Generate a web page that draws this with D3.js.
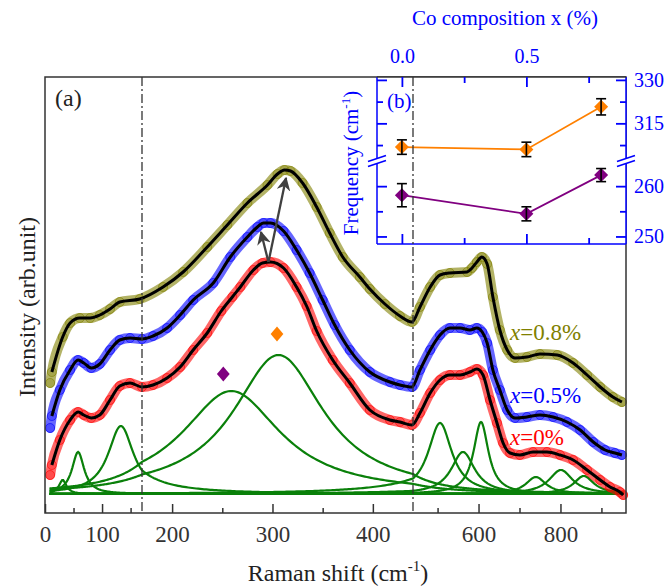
<!DOCTYPE html>
<html>
<head>
<meta charset="utf-8">
<script src="https://cdn.jsdelivr.net/npm/d3@7"></script>
<style>
  body { margin: 0; background: #fff; }
  svg text { font-family: "Liberation Serif", Tinos, "Times New Roman", Times, "DejaVu Serif", serif !important; }
</style>
</head>
<body>
<svg id="chart"></svg>
<script>
// Raman spectra, [shift (cm-1), intensity (arb.)]
const spec00 = [[9,38],[12,48],[26,73],[44,93],[58,101],[68,98],[81,95],[96,98],[114,113],[131,127],[149,130],[170,126],[181,128],[195,135],[208,146],[221,163],[235,180],[249,202],[260,216],[268,226],[281,243],[290,250],[298,251],[311,245],[324,226],[334,207],[344,182],[360,153],[377,130],[397,103],[417,93],[427,91],[439,88],[457,100],[482,120],[506,133],[530,138],[555,138],[579,141],[596,144],[611,138],[628,113],[645,90],[660,70],[677,60],[701,58],[733,61],[767,61],[799,58],[831,53],[865,43],[897,33],[921,26],[945,21],[953,18]];
const spec05 = [[9,85],[12,97],[26,123],[44,143],[58,153],[68,150],[81,145],[96,149],[114,163],[131,173],[149,175],[170,174],[181,177],[195,185],[208,198],[221,213],[241,230],[258,256],[275,276],[285,286],[291,290],[298,290],[311,282],[324,263],[337,240],[350,213],[362,188],[377,163],[397,141],[417,131],[427,128],[439,126],[457,143],[482,163],[506,178],[530,185],[555,185],[579,183],[596,185],[609,181],[621,170],[635,143],[652,123],[670,103],[689,95],[718,96],[750,98],[782,96],[816,91],[848,83],[880,71],[909,63],[933,60],[950,58]];
const spec08 = [[9,130],[12,141],[31,176],[44,190],[61,195],[79,195],[96,198],[114,204],[131,211],[166,214],[191,226],[211,241],[235,266],[255,288],[275,310],[295,328],[305,339],[312,343],[318,342],[330,330],[344,306],[357,280],[370,256],[387,236],[397,224],[412,209],[427,197],[439,191],[457,206],[482,226],[506,238],[530,240],[572,241],[584,245],[596,251],[608,256],[621,249],[635,216],[652,183],[670,163],[689,155],[718,156],[750,159],[792,158],[831,150],[865,138],[897,126],[928,116],[950,111]];

// Lorentzian components of the x=0 fit
const peakCenter = [31, 58, 133, 259, 306, 506, 562, 606, 740, 801, 857];
const peakHeight = [14, 42, 68, 103, 139, 71, 42, 72, 17, 24, 18];
const peakWidth  = [8, 13, 27, 60, 55, 35, 35, 22, 30, 35, 30];
const peakBase = 19;

// mode markers and shift arrows
const markShift = [251, 304.5];
const markInt = [139, 179];
const arrowFrom = [296, 251];
const arrowTo = [[288.5, 281], [313.5, 335]];

// x axis ticks (broken axis)
const majorTicks = [0, 100, 200, 300, 400, 600, 800];
const minorTicks = [50, 150, 250, 350, 500, 700, 900];
const axisBreaks = [170, 440];

// inset (b): mode frequency vs Co composition
const coX = [0, 0.5, 0.8];
const freqHigh = [306.8, 306.0, 320.7];
const errHigh = [2.5, 2.5, 2.8];
const freqLow = [258.2, 254.5, 262.2];
const errLow = [2.3, 1.4, 1.3];
const insetMajorY = [250, 260, 315, 330];
const insetMinorY = [255, 307.5, 322.5];
const insetMajorX = [0, 0.5];
const insetMinorX = [0.25, 0.75];

const width = 668, height = 588;
const L = 45, R = 626, T = 77, B = 513;
const serif = '"Liberation Serif", Tinos, "Times New Roman", Times, "DejaVu Serif", serif';

const svg = d3.select("#chart").attr("width", width).attr("height", height)
  .attr("font-family", serif);

const x = d3.scaleLinear().domain([0, 170, 440, 960]).range([L, 142, 413, R]);
const y = d3.scaleLinear().domain([0, 436]).range([B, T]);

// green components
const grid = d3.range(8, 956, 2);
const compLine = d3.line().x(d => x(d[0])).y(d => y(d[1]));
peakCenter.forEach((c, i) => {
  const pts = grid.map(s => [s, peakBase + peakHeight[i] / (1 + ((s - c) / peakWidth[i]) ** 2)]);
  svg.append("path").attr("d", compLine(pts))
    .attr("fill", "none").attr("stroke", "#0a800a").attr("stroke-width", 2.2);
});

// spectra: data band + fit
const specLine = d3.line().x(d => x(d[0])).y(d => y(d[1])).curve(d3.curveMonotoneX);
[[spec08, "#808000"], [spec05, "#0000ff"], [spec00, "#ff0000"]].forEach(([s, col]) => {
  svg.append("path").attr("d", specLine(s))
    .attr("fill", "none").attr("stroke", col).attr("stroke-width", 10)
    .attr("stroke-opacity", 0.6).attr("stroke-linecap", "round");
  svg.append("g").selectAll("circle").data(s).join("circle")
    .attr("cx", d => x(d[0])).attr("cy", d => y(d[1])).attr("r", 4.5)
    .attr("fill", col).attr("fill-opacity", 0.25)
    .attr("stroke", col).attr("stroke-opacity", 0.6);
});
[spec08, spec05, spec00].forEach(s => {
  svg.append("path").attr("d", specLine(s.slice(1)))
    .attr("fill", "none").attr("stroke", "#000").attr("stroke-width", 3);
});

// arrows
const defs = svg.append("defs");
defs.append("marker").attr("id", "head").attr("viewBox", "0 0 10 10")
  .attr("refX", 9).attr("refY", 5).attr("markerWidth", 6).attr("markerHeight", 6)
  .attr("markerUnits", "strokeWidth").attr("orient", "auto")
  .append("path").attr("d", "M0,0L10,5L0,10L3,5Z").attr("fill", "#404040");
arrowTo.forEach(t => {
  svg.append("line")
    .attr("x1", x(arrowFrom[0])).attr("y1", y(arrowFrom[1]))
    .attr("x2", x(t[0])).attr("y2", y(t[1]))
    .attr("stroke", "#404040").attr("stroke-width", 2.3)
    .attr("marker-end", "url(#head)");
});

// diamonds
const diamond = r => `M0,${-r}L${r * 0.85},0L0,${r}L${-r * 0.85},0Z`;
svg.selectAll(".mode").data(markShift).join("path")
  .attr("class", "mode")
  .attr("d", diamond(7.5))
  .attr("transform", (d, i) => `translate(${x(d)},${y(markInt[i])})`)
  .attr("fill", (d, i) => i ? "#ff8000" : "#800080");

// labels x=...
[["0.8%", "#808000", 340], ["0.5%", "#0000ff", 403], ["0%", "#ff0000", 445]].forEach(([t, col, yy]) => {
  const tx = svg.append("text").attr("x", 510).attr("y", yy)
    .attr("fill", col).attr("font-size", 23);
  tx.append("tspan").attr("font-style", "italic").text("x");
  tx.append("tspan").text("=" + t);
});

// x axis
const xAxis = svg.append("g").attr("transform", `translate(0,${B})`)
  .call(d3.axisBottom(x).tickValues(majorTicks).tickSize(-9).tickPadding(13).tickFormat(d3.format("d")));
svg.append("g").attr("transform", `translate(0,${B})`)
  .call(d3.axisBottom(x).tickValues(minorTicks).tickSize(-5).tickFormat(""));
svg.selectAll(".domain").remove();
svg.selectAll(".tick line").attr("stroke", "#333").attr("stroke-width", 1.5);
xAxis.selectAll("text").attr("font-size", 23).attr("fill", "#333")
  .attr("font-family", serif);

// frame
svg.append("rect").attr("x", L).attr("y", T).attr("width", R - L).attr("height", B - T)
  .attr("fill", "none").attr("stroke", "#333").attr("stroke-width", 1.5);

// axis labels
const xl = svg.append("text").attr("x", 338).attr("y", 581).attr("text-anchor", "middle")
  .attr("font-size", 24).attr("fill", "#222");
xl.append("tspan").text("Raman shift (cm");
xl.append("tspan").attr("font-size", 15).attr("dy", -10).text("-1");
xl.append("tspan").attr("dy", 10).text(")");
svg.append("text").attr("transform", "translate(27,307) rotate(-90)")
  .attr("text-anchor", "middle").attr("dy", "0.35em")
  .attr("font-size", 24).attr("fill", "#222").text("Intensity (arb.unit)");
svg.append("text").attr("x", 55).attr("y", 106).attr("font-size", 24).attr("fill", "#222").text("(a)");

// ---------- inset ----------
const blue = "#0000ff";
const IL = 377, IR = 626, IT = 77, IB = 244;
const ix = d3.scaleLinear().domain([-0.1, 0.9]).range([IL, IR]);
const iy = d3.scaleLinear().domain([248.5, 265, 302, 331]).range([IB, 161, 161, IT]);

const ins = svg.append("g");
ins.append("rect").attr("x", IL).attr("y", IT).attr("width", IR - IL).attr("height", IB - IT)
  .attr("fill", "#fff");
ins.append("line").attr("x1", IL).attr("x2", IR).attr("y1", IB).attr("y2", IB).attr("stroke", blue).attr("stroke-width", 1.5);
ins.append("line").attr("x1", IL).attr("x2", IL).attr("y1", IT).attr("y2", IB).attr("stroke", blue).attr("stroke-width", 1.5);
ins.append("line").attr("x1", IR).attr("x2", IR).attr("y1", IT).attr("y2", IB).attr("stroke", blue).attr("stroke-width", 1.5);
ins.append("line").attr("x1", IL).attr("x2", IR).attr("y1", IT).attr("y2", IT).attr("stroke", "#333").attr("stroke-width", 1.5);

ins.append("g").attr("transform", `translate(0,${IT})`)
  .call(d3.axisTop(ix).tickValues(insetMajorX).tickSize(-10).tickPadding(14).tickFormat(d3.format(".1f")));
ins.append("g").attr("transform", `translate(0,${IT})`)
  .call(d3.axisTop(ix).tickValues(insetMinorX).tickSize(-6).tickFormat(""));
ins.append("g").attr("transform", `translate(0,${IB})`)
  .call(d3.axisBottom(ix).tickValues(insetMajorX).tickSize(-10).tickFormat(""));
ins.append("g").attr("transform", `translate(0,${IB})`)
  .call(d3.axisBottom(ix).tickValues(insetMinorX).tickSize(-6).tickFormat(""));
ins.append("g").attr("transform", `translate(${IR},0)`)
  .call(d3.axisRight(iy).tickValues(insetMajorY).tickSize(-10).tickPadding(8).tickFormat(d3.format("d")));
ins.append("g").attr("transform", `translate(${IR},0)`)
  .call(d3.axisRight(iy).tickValues(insetMinorY).tickSize(-6).tickFormat(""));
ins.append("g").attr("transform", `translate(${IL},0)`)
  .call(d3.axisLeft(iy).tickValues(insetMajorY).tickSize(-10).tickFormat(""));
ins.append("g").attr("transform", `translate(${IL},0)`)
  .call(d3.axisLeft(iy).tickValues(insetMinorY).tickSize(-6).tickFormat(""));
ins.selectAll(".domain").remove();
ins.selectAll(".tick line").attr("stroke", blue).attr("stroke-width", 1.8);
ins.selectAll(".tick text").attr("font-size", 20).attr("fill", blue).attr("font-family", serif);

// axis breaks
[IL, IR].forEach(bx => {
  ins.append("rect").attr("x", bx - 3).attr("y", 158).attr("width", 6).attr("height", 6).attr("fill", "#fff");
  [-2.5, 2.5].forEach(o => {
    ins.append("line").attr("x1", bx - 9).attr("y1", 164 + o).attr("x2", bx + 9).attr("y2", 158 + o)
      .attr("stroke", blue).attr("stroke-width", 1.5);
  });
});

// series
const drawSeries = (vals, errs, col) => {
  const pts = coX.map((c, i) => [c, vals[i], errs[i]]);
  ins.append("path").attr("d", d3.line().x(d => ix(d[0])).y(d => iy(d[1]))(pts))
    .attr("fill", "none").attr("stroke", col).attr("stroke-width", 1.8);
  ins.append("g").selectAll("path").data(pts).join("path")
    .attr("d", `M0,-7L7,0L0,7L-7,0Z`)
    .attr("transform", d => `translate(${ix(d[0])},${iy(d[1])})`)
    .attr("fill", col);
  const eb = ins.append("g").selectAll("g").data(pts).join("g")
    .attr("transform", d => `translate(${ix(d[0])},0)`)
    .attr("stroke", "#000").attr("stroke-width", 1.6);
  eb.append("line").attr("y1", d => iy(d[1] - d[2])).attr("y2", d => iy(d[1] + d[2]));
  eb.append("line").attr("x1", -5).attr("x2", 5).attr("y1", d => iy(d[1] - d[2])).attr("y2", d => iy(d[1] - d[2]));
  eb.append("line").attr("x1", -5).attr("x2", 5).attr("y1", d => iy(d[1] + d[2])).attr("y2", d => iy(d[1] + d[2]));
};
drawSeries(freqHigh, errHigh, "#ff8000");
drawSeries(freqLow, errLow, "#800080");

// inset labels
svg.append("text").attr("x", 505).attr("y", 25).attr("text-anchor", "middle")
  .attr("font-size", 21).attr("fill", blue).text("Co composition x (%)");
svg.append("text").attr("x", 387).attr("y", 108).attr("font-size", 21).attr("fill", blue).text("(b)");
const fl = svg.append("text").attr("transform", "translate(351,163) rotate(-90)")
  .attr("text-anchor", "middle").attr("dy", "0.35em").attr("font-size", 21).attr("fill", blue);
fl.append("tspan").text("Frequency (cm");
fl.append("tspan").attr("font-size", 13).attr("dy", -8).text("-1");
fl.append("tspan").attr("dy", 8).text(")");

// dash-dot break lines
axisBreaks.forEach(b => {
  svg.append("line").attr("x1", x(b)).attr("x2", x(b)).attr("y1", T).attr("y2", B)
    .attr("stroke", "#333").attr("stroke-width", 1.3).attr("stroke-dasharray", "9,3,2,3");
});
</script>
</body>
</html>
